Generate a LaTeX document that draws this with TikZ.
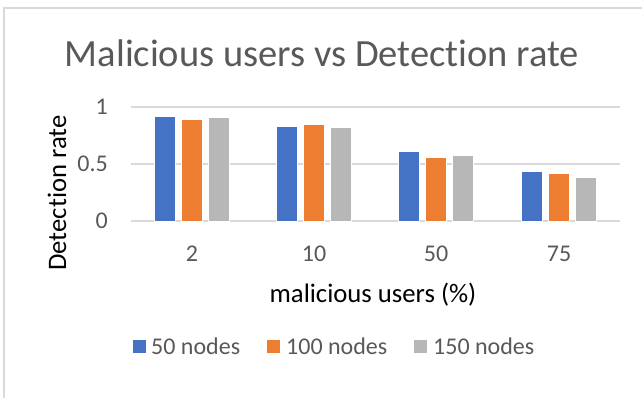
\documentclass[tikz,border=0pt]{standalone}
\usepackage{fontspec}
\setmainfont[Ligatures=NoCommon]{Carlito}
\definecolor{sblue}{HTML}{4472C4}
\definecolor{sorange}{HTML}{ED7D31}
\definecolor{sgray}{HTML}{B7B7B7}
\definecolor{txtgray}{HTML}{595959}
\definecolor{gridc}{HTML}{D9D9D9}
\tikzset{
  bar/.style={draw=white,line width=0.6pt},
  grid line/.style={draw=gridc,line width=1.3pt},
  ticklbl/.style={text=txtgray,font=\fontsize{24}{28}\selectfont,inner sep=0pt},
  axtitle/.style={text=black,font=\fontsize{26.7}{30}\selectfont,inner sep=0pt},
  legsq/.style={minimum width=13pt,minimum height=13pt,inner sep=0pt},
}
\begin{document}
\begin{tikzpicture}[x=1pt,y=-1pt]
\useasboundingbox (0,0) rectangle (642,398);
\fill[white] (0,0) rectangle (642,398);
% frame
\draw[gridc,line width=1.5pt] (4,398) -- (4,8) -- (642,8);
% title
\node[anchor=base,text=txtgray,font=\fontsize{38.5}{42}\selectfont,inner sep=0pt] (title) at (322,67) {Malicious users vs Detection rate};
% grid
\foreach \yy/\lab/\nm in {107/1/g1,164/0.5/g2,221/0/g3}{
  \draw[grid line] (131,\yy) -- (620,\yy);
  \node[ticklbl,anchor=east] (\nm) at (108,\yy) {\lab};
}
% bars
\foreach \c/\a/\b/\d/\lab/\nm in {192/0.92/0.89/0.91/2/c1,314/0.83/0.85/0.82/10/c2,436/0.61/0.56/0.58/50/c3,559/0.44/0.42/0.38/75/c4}{
  \fill[bar,fill=sblue] (\c-37.5,221) rectangle (\c-16.5,221-114*\a);
  \fill[bar,fill=sorange] (\c-10.5,221) rectangle (\c+10.5,221-114*\b);
  \fill[bar,fill=sgray] (\c+16.5,221) rectangle (\c+37.5,221-114*\d);
  \node[ticklbl] (\nm) at (\c,254) {\lab};
}
% axis titles
\node[axtitle,anchor=base] (xt) at (373,302) {malicious users (\%)};
\node[axtitle,anchor=base,rotate=90] (yt) at (66,193) {Detection rate};
% legend
\node[legsq,fill=sblue] (l1) at (139.5,346.5) {};
\node[ticklbl,anchor=west] (t1) at (151,346) {50 nodes};
\node[legsq,fill=sorange] (l2) at (273,346.5) {};
\node[ticklbl,anchor=west] (t2) at (286,346) {100 nodes};
\node[legsq,fill=sgray] (l3) at (420,346.5) {};
\node[ticklbl,anchor=west] (t3) at (433,346) {150 nodes};
\end{tikzpicture}
\end{document}
